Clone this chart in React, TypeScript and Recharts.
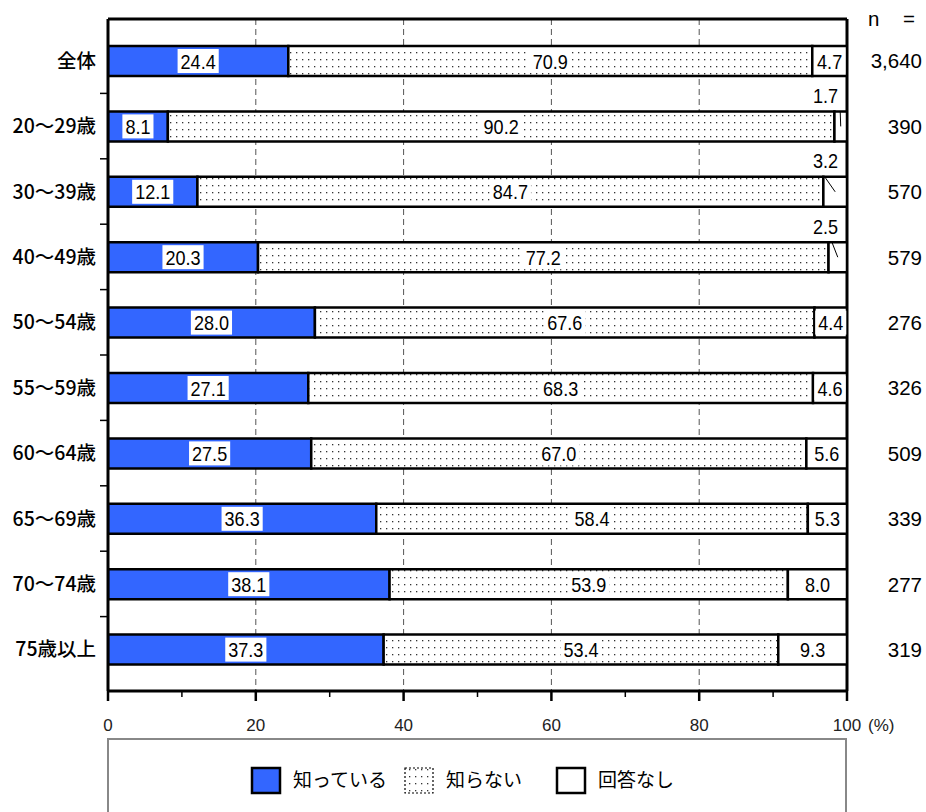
import React from "react";
import { Bar, BarChart, CartesianGrid, LabelList, XAxis, YAxis } from "recharts";

const categories = [
  "全体",
  "20～29歳",
  "30～39歳",
  "40～49歳",
  "50～54歳",
  "55～59歳",
  "60～64歳",
  "65～69歳",
  "70～74歳",
  "75歳以上",
];
const known = [24.4, 8.1, 12.1, 20.3, 28.0, 27.1, 27.5, 36.3, 38.1, 37.3];
const unknown = [70.9, 90.2, 84.7, 77.2, 67.6, 68.3, 67.0, 58.4, 53.9, 53.4];
const noAnswer = [4.7, 1.7, 3.2, 2.5, 4.4, 4.6, 5.6, 5.3, 8.0, 9.3];
const sampleSizes = ["3,640", "390", "570", "579", "276", "326", "509", "339", "277", "319"];
const xTicks = [0, 10, 20, 30, 40, 50, 60, 70, 80, 90, 100];
const gridValues = [20, 40, 60, 80];
const legendItems = ["知っている", "知らない", "回答なし"];

const data = categories.map((name, i) => ({
  name,
  known: known[i],
  unknown: unknown[i],
  noAnswer: noAnswer[i],
  n: sampleSizes[i],
}));

const JP = "'Noto Sans CJK JP', 'Noto Sans', sans-serif";
const SANS = "'Liberation Sans', Arial, sans-serif";
const BLUE = "#3366ff";
const VALUE_FS = 21;

// width of a number in Liberation Sans, squeezed to a condensed look
const textWidth = (s: string) =>
  s.split("").reduce((w, c) => w + (c === "." || c === "," ? 0.278 : 0.556) * VALUE_FS, 0) * 0.86;

const ValueText = ({ x, y, text, anchor }: { x: number; y: number; text: string; anchor: string }) => (
  <text
    x={x}
    y={y}
    dy="0.36em"
    textAnchor={anchor}
    fontFamily={SANS}
    fontSize={VALUE_FS}
    fill="#000"
    textLength={textWidth(text)}
    lengthAdjust="spacingAndGlyphs"
  >
    {text}
  </text>
);

const BoxedValue = (props: any) => {
  const { x, y, width, height, value } = props;
  const text = Number(value).toFixed(1);
  const cx = x + width / 2;
  const cy = y + height / 2;
  const w = textWidth(text) + 6;
  return (
    <g>
      <rect x={cx - w / 2} y={cy - 12} width={w} height={24} fill="#fff" />
      <ValueText x={cx} y={cy} text={text} anchor="middle" />
    </g>
  );
};

// small "no answer" values go above the bar with a leader line
const NoAnswerValue = (props: any) => {
  const { x, y, width, value } = props;
  if (value >= 4) return <BoxedValue {...props} />;
  const text = Number(value).toFixed(1);
  const cx = x + width / 2;
  const sx = cx - Math.max(0, (width - 12) * 0.9);
  return (
    <g>
      <line x1={sx} y1={y} x2={cx} y2={y + 15} stroke="#000" strokeWidth={1} />
      <ValueText x={x + width - 9} y={y - 16} text={text} anchor="end" />
    </g>
  );
};

const SampleSize = (props: any) => {
  const { x, y, width, height, value, index } = props;
  const right = x + width + 75;
  const cy = y + height / 2;
  return (
    <g fontFamily={SANS} fontSize={20.5} fill="#000">
      {index === 0 && (
        <g>
          <text x={right - 54} y={cy - 42} dy="0.36em">n</text>
          <text x={right - 7} y={cy - 42} dy="0.36em" textAnchor="end">=</text>
        </g>
      )}
      <text x={right} y={cy} dy="0.36em" textAnchor="end">{value}</text>
    </g>
  );
};

const CategoryTick = (props: any) => {
  const { x, y, payload } = props;
  const half = payload.offset ?? 32.7;
  return (
    <g>
      {payload.index > 0 && <line x1={x - 8} x2={x} y1={y - half} y2={y - half} stroke="#000" strokeWidth={1.5} />}
      <text x={x - 12} y={y} dy="0.36em" textAnchor="end" fontFamily={JP} fontWeight={500} fontSize={19.5} fill="#000">
        {payload.value}
      </text>
    </g>
  );
};

const PercentTick = (props: any) => {
  const { x, y, payload } = props;
  const v = payload.value;
  const major = v % 20 === 0;
  return (
    <g>
      <line x1={x} x2={x} y1={y} y2={y + (major ? 10 : 6)} stroke="#000" strokeWidth={major ? 2.5 : 1.5} />
      {major && (
        <text x={x} y={y + 34} dy="0.36em" textAnchor="middle" fontFamily={SANS} fontSize={17} fill="#222">
          {v}
        </text>
      )}
      {v === 100 && (
        <text x={x + 21} y={y + 34} dy="0.36em" fontFamily={SANS} fontSize={17} fill="#222">
          (%)
        </text>
      )}
    </g>
  );
};

const DotPattern = ({ id }: { id: string }) => (
  <pattern id={id} width={6} height={7} patternUnits="userSpaceOnUse">
    <rect width={6} height={7} fill="#fff" />
    <rect x={2} y={3} width={1.3} height={1.3} fill="#333" />
  </pattern>
);

const LegendBox = () => {
  const starts = [252, 405, 557];
  return (
    <svg width={740} height={80} style={{ position: "absolute", left: 107, top: 738 }}>
      <defs>
        <DotPattern id="dots-legend" />
      </defs>
      <rect x={1} y={1} width={738} height={100} fill="#fff" stroke="#888" strokeWidth={2} />
      {legendItems.map((label, i) => {
        const sx = starts[i] - 107;
        const fill = i === 0 ? BLUE : i === 1 ? "url(#dots-legend)" : "#fff";
        return (
          <g key={label}>
            <rect
              x={sx}
              y={30}
              width={28}
              height={25}
              fill={fill}
              stroke="#000"
              strokeWidth={i === 1 ? 1.2 : 2.5}
              strokeDasharray={i === 1 ? "2 2" : undefined}
            />
            <text x={sx + 41} y={42} dy="0.36em" fontFamily={JP} fontSize={19} fill="#000">
              {label}
            </text>
          </g>
        );
      })}
    </svg>
  );
};

export default function App() {
  return (
    <div style={{ position: "relative", width: 926, height: 812, overflow: "hidden", background: "#fff" }}>
      <style>{`body{margin:0}`}</style>
      <BarChart
        width={926}
        height={740}
        data={data}
        layout="vertical"
        barSize={30}
        margin={{ top: 19, right: 79, left: 8, bottom: 4 }}
      >
        <defs>
          <DotPattern id="dots" />
        </defs>
        <CartesianGrid
          horizontal={false}
          stroke="#555"
          strokeDasharray="6 4"
          verticalCoordinatesGenerator={({ offset }: any) =>
            gridValues.map((v) => offset.left + (offset.width * v) / 100)
          }
        />
        <CartesianGrid
          stroke="#000"
          strokeWidth={3}
          horizontalCoordinatesGenerator={({ offset }: any) => [offset.top]}
          verticalCoordinatesGenerator={({ offset }: any) => [offset.left + offset.width]}
        />
        <XAxis
          type="number"
          domain={[0, 100]}
          allowDataOverflow
          ticks={xTicks}
          interval={0}
          height={45}
          tickSize={0}
          tickMargin={0}
          tickLine={false}
          axisLine={{ stroke: "#000", strokeWidth: 3 }}
          tick={<PercentTick />}
        />
        <YAxis
          type="category"
          dataKey="name"
          width={100}
          padding={{ top: 9, bottom: 9 }}
          tickSize={0}
          tickMargin={0}
          tickLine={false}
          interval={0}
          axisLine={{ stroke: "#000", strokeWidth: 3 }}
          tick={<CategoryTick />}
        />
        <Bar dataKey="known" stackId="a" fill={BLUE} stroke="#000" strokeWidth={2.5} isAnimationActive={false}>
          <LabelList dataKey="known" content={<BoxedValue />} />
        </Bar>
        <Bar dataKey="unknown" stackId="a" fill="url(#dots)" stroke="#000" strokeWidth={2.5} isAnimationActive={false}>
          <LabelList dataKey="unknown" content={<BoxedValue />} />
        </Bar>
        <Bar dataKey="noAnswer" stackId="a" fill="#fff" stroke="#000" strokeWidth={2.5} isAnimationActive={false}>
          <LabelList dataKey="noAnswer" content={<NoAnswerValue />} />
          <LabelList dataKey="n" content={<SampleSize />} />
        </Bar>
      </BarChart>
      <LegendBox />
    </div>
  );
}
